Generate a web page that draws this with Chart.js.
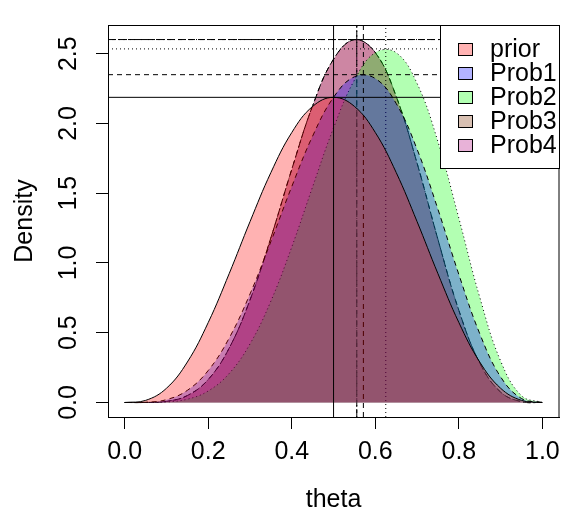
<!DOCTYPE html>
<html><head><meta charset="utf-8">
<script src="https://cdn.jsdelivr.net/npm/chart.js@4/dist/chart.umd.min.js"></script>
<style>html,body{margin:0;padding:0;background:#fff;overflow:hidden}#wrap{width:568px;height:513px;position:relative}</style>
</head><body><div id="wrap"><canvas id="c" width="568" height="513"></canvas></div>
<script>
// ---- data ----
const theta = [0, 0.05, 0.1, 0.15, 0.2, 0.25, 0.3, 0.35, 0.4, 0.45, 0.5, 0.55, 0.6, 0.65, 0.7, 0.75, 0.8, 0.85, 0.9, 0.95, 1];
const priorDensity = [0, 0.0150, 0.1021, 0.2902, 0.5734, 0.9229, 1.2965, 1.6484, 1.9354, 2.1225, 2.1875, 2.1225, 1.9354, 1.6484, 1.2965, 0.9229, 0.5734, 0.2902, 0.1021, 0.0150, 0];
const prob1Density = [0, 0.0015, 0.0204, 0.0871, 0.2294, 0.4614, 0.7779, 1.1539, 1.5483, 1.9103, 2.1875, 2.3348, 2.3224, 2.1430, 1.8152, 1.3843, 0.9175, 0.4933, 0.1837, 0.0285, 0];
const prob2Density = [0, 0.0001, 0.0037, 0.0235, 0.0826, 0.2076, 0.4201, 0.7270, 1.1148, 1.5473, 1.9688, 2.3114, 2.5082, 2.5073, 2.2871, 1.8688, 1.3212, 0.7547, 0.2976, 0.0487, 0];
const prob3Density = [0, 0.0003, 0.0083, 0.0499, 0.1652, 0.3893, 0.7351, 1.1813, 1.6722, 2.1276, 2.4609, 2.6004, 2.5082, 2.1939, 1.7153, 1.1680, 0.6606, 0.2830, 0.0744, 0.0061, 0];
const prob4Density = [0, 0.0003, 0.0083, 0.0499, 0.1652, 0.3893, 0.7351, 1.1813, 1.6722, 2.1276, 2.4609, 2.6004, 2.5082, 2.1939, 1.7153, 1.1680, 0.6606, 0.2830, 0.0744, 0.0061, 0];
const seriesNames = ['prior', 'Prob1', 'Prob2', 'Prob3', 'Prob4'];
const seriesModes = [0.5, 0.5714, 0.625, 0.5556, 0.5556];
const seriesPeaks = [2.1875, 2.3499, 2.5347, 2.6017, 2.6017];
const xTickValues = [0, 0.2, 0.4, 0.6, 0.8, 1.0];
const yTickValues = [0, 0.5, 1.0, 1.5, 2.0, 2.5];
const xLimits = [-0.04, 1.04];
const yLimits = [-0.104, 2.706];

// ---- styles ----
const fillColors = ['rgba(255,0,0,0.3)', 'rgba(0,0,255,0.3)', 'rgba(0,255,0,0.3)', 'rgba(125,45,0,0.3)', 'rgba(178,0,125,0.3)'];
const dashes = [[], [5, 4], [1, 3], [1, 3, 4, 3], [7, 3]];
const drawRank = [4, 3, 2, 0, 1]; // 0 = drawn first (bottom layer)
const FONT = "'Liberation Sans', Arial, Helvetica, sans-serif";

const densities = [priorDensity, prob1Density, prob2Density, prob3Density, prob4Density];
const datasets = [];
densities.forEach((dens, i) => {
  const fillOrder = 100 - 20 * drawRank[i];
  const lineOrder = fillOrder - 10;
  datasets.push({
    label: seriesNames[i],
    data: theta.map((t, j) => ({x: t, y: dens[j]})),
    fill: 'origin',
    backgroundColor: fillColors[i],
    borderColor: '#000',
    borderWidth: 1,
    borderDash: dashes[i],
    pointRadius: 0,
    tension: 0.4,
    order: fillOrder
  });
  datasets.push({
    label: seriesNames[i] + ' mode',
    data: [{x: seriesModes[i], y: yLimits[0]}, {x: seriesModes[i], y: yLimits[1]}],
    fill: false, borderColor: '#000', borderWidth: 1, borderDash: dashes[i],
    pointRadius: 0, order: lineOrder
  });
  datasets.push({
    label: seriesNames[i] + ' peak',
    data: [{x: xLimits[0], y: seriesPeaks[i]}, {x: xLimits[1], y: seriesPeaks[i]}],
    fill: false, borderColor: '#000', borderWidth: 1, borderDash: dashes[i],
    pointRadius: 0, order: lineOrder
  });
});

const boxPlugin = {
  id: 'rbox',
  afterDraw(chart) {
    const {ctx, chartArea: a} = chart;
    ctx.save();
    ctx.strokeStyle = '#000';
    ctx.lineWidth = 1;
    ctx.setLineDash([]);
    ctx.strokeRect(Math.round(a.left) + 0.5, Math.round(a.top) + 0.5, Math.round(a.right - a.left) - 0.5, Math.round(a.bottom - a.top));
    // legend (top right, inside plot region)
    const w = 119, h = 143;
    const L = Math.round(a.right - w) + 0.5, T = Math.round(a.top) + 0.5;
    ctx.fillStyle = '#fff';
    ctx.fillRect(L, T, w, h);
    ctx.strokeRect(L, T, w, h);
    ctx.font = '25px ' + FONT;
    ctx.textBaseline = 'middle';
    ctx.textAlign = 'left';
    seriesNames.forEach((name, i) => {
      const cy = T + 23.5 + 24 * i;
      const sx = L + 18, sy = Math.round(cy - 6) + 0.5;
      ctx.fillStyle = '#fff';
      ctx.fillRect(sx, sy, 14, 12);
      ctx.fillStyle = fillColors[i];
      ctx.fillRect(sx, sy, 14, 12);
      ctx.strokeStyle = '#000';
      ctx.strokeRect(sx, sy, 14, 12);
      ctx.fillStyle = '#000';
      ctx.fillText(name, L + 49.5, cy + 1);
    });
    ctx.restore();
  }
};

new Chart(document.getElementById('c'), {
  type: 'line',
  data: {datasets},
  plugins: [boxPlugin],
  options: {
    responsive: false,
    animation: false,
    devicePixelRatio: 1,
    layout: {padding: {top: 13, right: 6, left: 0, bottom: 0}},
    plugins: {legend: {display: false}, tooltip: {enabled: false}},
    scales: {
      x: {
        type: 'linear', min: xLimits[0], max: xLimits[1],
        afterBuildTicks: s => { s.ticks = xTickValues.map(v => ({value: v})); },
        afterFit: s => { s.height = 96; },
        ticks: {font: {family: FONT, size: 25}, color: '#000', padding: 8, maxRotation: 0, autoSkip: false,
                callback: v => Number(v).toFixed(1)},
        grid: {drawOnChartArea: false, drawTicks: true, tickLength: 12, color: '#000', lineWidth: 1},
        border: {display: true, color: '#000', width: 1},
        title: {display: true, text: 'theta', font: {family: FONT, size: 25, lineHeight: 1.0}, color: '#000', padding: {top: 0, bottom: 0}}
      },
      y: {
        type: 'linear', min: yLimits[0], max: yLimits[1],
        afterBuildTicks: s => { s.ticks = yTickValues.map(v => ({value: v})); },
        afterFit: s => { s.width = 108; },
        ticks: {font: {family: FONT, size: 25}, color: '#000', padding: 10, minRotation: 90, maxRotation: 90,
                crossAlign: 'center', autoSkip: false, callback: v => Number(v).toFixed(1)},
        grid: {drawOnChartArea: false, drawTicks: true, tickLength: 12, color: '#000', lineWidth: 1},
        border: {display: true, color: '#000', width: 1},
        title: {display: true, text: 'Density', font: {family: FONT, size: 25, lineHeight: 1.2}, color: '#000', padding: {top: 10, bottom: 0}}
      }
    }
  }
});
</script></body></html>
